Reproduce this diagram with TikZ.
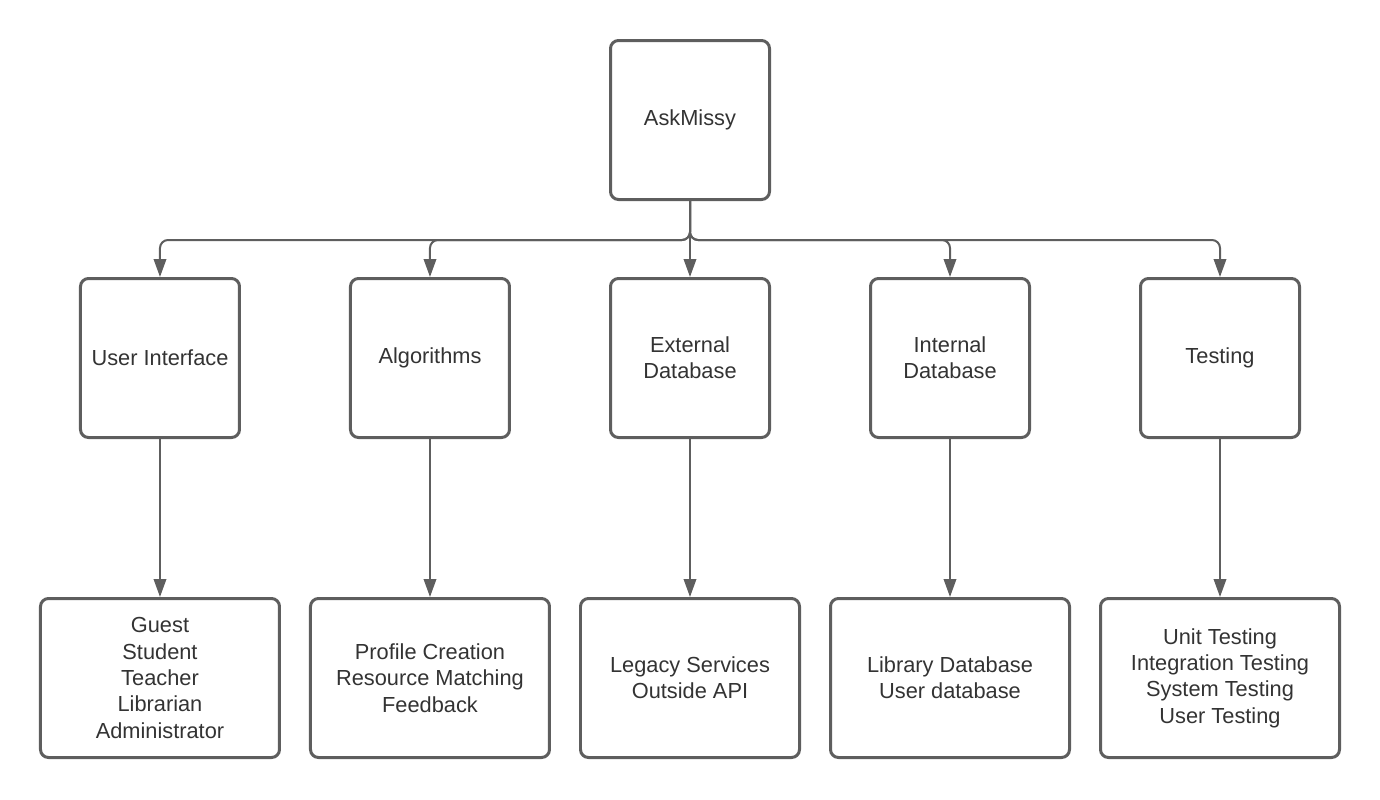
\documentclass[tikz,border=0pt]{standalone}
\usepackage{fontspec}
\setmainfont{Liberation Sans}
\usetikzlibrary{arrows.meta}
\definecolor{linegray}{RGB}{94,94,94}
\definecolor{textgray}{RGB}{51,51,51}
\tikzset{box/.style={draw=linegray,line width=0.06cm,rounded corners=0.16cm,
    minimum width=3.18cm,minimum height=3.18cm,align=center,text=textgray,
    font=\fontsize{12.4}{15}\selectfont}}
\tikzset{leaf/.style={box,minimum width=4.78cm}}

\begin{document}
\begin{tikzpicture}[
        edge from parent/.style={draw=linegray,line width=0.04cm,-{Triangle[width=0.25cm,length=0.36cm]}},
        level 1/.style={level distance=4.76cm,sibling distance=5.3cm,
            edge from parent path={[rounded corners=0.16cm] (\tikzparentnode.south) -- ++(0,-0.78) -| (\tikzchildnode.north)}},
        level 2/.style={level distance=6.4cm,
            edge from parent path={(\tikzparentnode.south) -- (\tikzchildnode.north)}}]
        \useasboundingbox (-13.8,2.4) rectangle (13.8,-13.58);
        \node[box](askmissy){AskMissy}
            child{node[box](ui){User Interface}
                child{node[leaf](uiroles){Guest\\Student\\Teacher\\Librarian\\Administrator}}
            }
            child[xshift=0.1cm]{node[box](algo){Algorithms}
                child{node[leaf](algotasks){Profile Creation\\Resource Matching\\Feedback}}
            }
            child{node[box](extdb){External\\Database}
                child{node[leaf,minimum width=4.38cm](extsources){Legacy Services\\Outside API}}
            }
            child[xshift=-0.1cm]{node[box](intdb){Internal\\Database}
                child{node[leaf](intsources){Library Database\\User database}}
            }
            child{node[box](testing){Testing}
                child{node[leaf](testkinds){Unit Testing\\Integration Testing\\System Testing\\User Testing}}
            };
    \end{tikzpicture}
\end{document}
